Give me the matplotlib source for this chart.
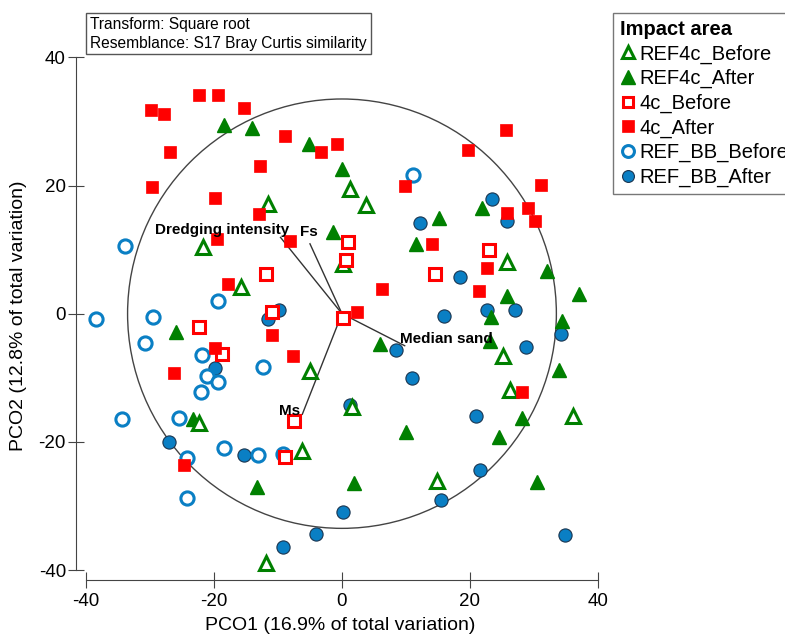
import numpy as np
import matplotlib
matplotlib.use("Agg")
from matplotlib import pyplot as plt
from matplotlib.patches import Circle

plt.rcParams['font.family'] = ['Liberation Sans', 'DejaVu Sans']
plt.rcParams['axes.unicode_minus'] = False

# REF4c_Before (open green triangles)
ref4c_before_x = [1.3, 3.7, 25.8, -11.6, -21.7, -15.7, 0.1, -4.95, 25.2, 26.3, 36.1, 1.5, 14.8, -22.4, -6.2, -11.8]
ref4c_before_y = [19.5, 17.0, 8.0, 17.1, 10.4, 4.2, 7.8, -8.9, -6.6, -11.9, -15.9, -14.6, -26.1, -17.0, -21.5, -38.9]

# REF4c_After (filled green triangles)
ref4c_after_x = [-18.4, -14.0, -5.1, 0.0, 21.9, 15.2, 11.6, 32.1, 25.8, 37.1, 23.3, 34.4, -1.4, -25.9, 6.0,
                 23.2, 33.9, 28.2, 24.5, 10.0, 1.9, 30.5, -23.2, -13.2]
ref4c_after_y = [29.4, 29.0, 26.5, 22.6, 16.5, 15.0, 10.9, 6.7, 2.7, 3.0, -0.5, -1.2, 12.7, -2.9, -4.8,
                 -4.3, -8.8, -16.3, -19.2, -18.4, -26.4, -26.2, -16.4, -27.1]

# 4c_Before (open red squares)
c4_before_x = [0.9, 0.7, 22.9, 14.5, 0.1, -11.8, -11.0, -22.4, -18.7, -7.5, -8.9]
c4_before_y = [11.2, 8.4, 10.0, 6.2, -0.7, 6.2, 0.3, -2.1, -6.3, -16.7, -22.3]

# 4c_After (filled red squares)
c4_after_x = [-29.8, -27.75, -22.4, -19.3, -15.3, -26.8, -8.9, -3.2, -0.8, -12.8, -29.7, -19.8,
              25.7, 19.7, 9.8, 31.1, 25.8, 29.0, 30.1, 14.1, 22.6, 6.2, 21.4, 2.3,
              -13.0, -19.5, -8.1, -17.8, -11.0, -19.9, -7.6, -26.3, 28.2, -24.7]
c4_after_y = [31.8, 31.2, 34.1, 34.1, 32.1, 25.3, 27.7, 25.3, 26.4, 23.1, 19.7, 18.0,
              28.7, 25.5, 20.0, 20.1, 15.7, 16.5, 14.5, 10.8, 7.2, 3.9, 3.6, 0.2,
              15.6, 11.7, 11.4, 4.6, -3.3, -5.3, -6.6, -9.3, -12.3, -23.6]

# REF_BB_Before (open blue circles)
bb_before_x = [11.1, -33.9, -19.3, -38.4, -29.5, -30.8, -21.8, -21.1, -19.4, -12.3, -22.0,
               -34.4, -25.4, -24.2, -18.4, -13.1, -9.2, -24.2]
bb_before_y = [21.7, 10.5, 2.0, -0.9, -0.5, -4.5, -6.4, -9.7, -10.6, -8.3, -12.3,
               -16.4, -16.3, -22.5, -20.9, -22.0, -21.9, -28.7]

# REF_BB_After (filled blue circles)
bb_after_x = [23.5, 25.8, 12.2, 18.5, 16.0, 22.7, 27.1, 34.3, 8.5, 28.7, 10.9, 1.2, 20.9, 21.5,
              15.4, 0.2, 34.9, -9.9, -11.5, -19.8, -27.0, -15.3, -4.1, -9.2]
bb_after_y = [17.9, 14.5, 14.1, 5.7, -0.3, 0.5, 0.5, -3.2, -5.7, -5.2, -10.0, -14.2, -15.9, -24.4,
              -29.0, -30.9, -34.5, 0.6, -0.9, -8.4, -20.0, -22.0, -34.4, -36.4]

# vectors (end points) and their labels
vec_names = ["Dredging intensity", "Fs", "Median sand", "Ms"]
vec_x = [-9.6, -5.0, 9.8, -6.2]
vec_y = [11.9, 10.9, -5.0, -15.7]
circle_r = 33.5

green = "#008000"
red = "#ff0000"
blue = "#0a7fc4"

fig = plt.figure(figsize=(7.85, 6.35), dpi=100)
ax = fig.add_axes([0.0973, 0.0872, 0.6726, 0.8326])

ms = 9.5
ax.plot(bb_after_x, bb_after_y, 'o', ms=ms, mfc=blue, mec="#1a3550", mew=0.8, ls='none', label="REF_BB_After")
ax.plot(bb_before_x, bb_before_y, 'o', ms=ms, mfc='white', mec=blue, mew=2.2, ls='none', label="REF_BB_Before")
ax.plot(ref4c_after_x, ref4c_after_y, '^', ms=ms + 1, mfc=green, mec=green, mew=1, ls='none', label="REF4c_After")
ax.plot(ref4c_before_x, ref4c_before_y, '^', ms=ms, mfc='white', mec=green, mew=2.2, ls='none', label="REF4c_Before")
ax.plot(c4_before_x, c4_before_y, 's', ms=ms - 1, mfc='white', mec=red, mew=2.2, ls='none', label="4c_Before")
ax.plot(c4_after_x, c4_after_y, 's', ms=ms - 0.5, mfc=red, mec=red, mew=0.5, ls='none', label="4c_After")

ax.add_patch(Circle((0, 0), circle_r, fill=False, ec="#444444", lw=1.0, zorder=1))
for name, vx, vy in zip(vec_names, vec_x, vec_y):
    ax.plot([0, vx], [0, vy], color="#333333", lw=1.0, zorder=1)
ax.text(-18.8, 13.0, "Dredging intensity", fontsize=11, fontweight='bold', ha='center', va='center')
ax.text(-5.2, 12.8, "Fs", fontsize=11, fontweight='bold', ha='center', va='center')
ax.text(16.3, -3.9, "Median sand", fontsize=11, fontweight='bold', ha='center', va='center')
ax.text(-8.2, -15.2, "Ms", fontsize=11, fontweight='bold', ha='center', va='center')

ax.set_xlim(-41.5, 41)
ax.set_ylim(-41.5, 41)
ax.set_xticks([-40, -20, 0, 20, 40])
ax.set_yticks([-40, -20, 0, 20, 40])
for s in ['top', 'right']:
    ax.spines[s].set_visible(False)
ax.spines['left'].set_bounds(-40, 40)
ax.spines['bottom'].set_bounds(-40, 40)
for s in ['left', 'bottom']:
    ax.spines[s].set_color("#444444")
ax.tick_params(labelsize=13.5, length=11, direction='inout', color="#444444")
ax.tick_params(axis='x', pad=4)
ax.tick_params(axis='y', pad=2)
ax.set_xlabel("PCO1 (16.9% of total variation)", fontsize=14, labelpad=5)
ax.set_ylabel("PCO2 (12.8% of total variation)", fontsize=14, labelpad=8)

fig.text(90 / 785, 1 - 17 / 635, "Transform: Square root\nResemblance: S17 Bray Curtis similarity",
         fontsize=11.2, va='top', ha='left', linespacing=1.3,
         bbox=dict(boxstyle='square,pad=0.25', fc='white', ec='#555555', lw=1))

handles, labels = ax.get_legend_handles_labels()
order = ["REF4c_Before", "REF4c_After", "4c_Before", "4c_After", "REF_BB_Before", "REF_BB_After"]
hmap = dict(zip(labels, handles))
leg = ax.legend([hmap[k] for k in order], order, loc='upper left',
                bbox_to_anchor=(613 / 785, 1 - 13 / 635), bbox_transform=fig.transFigure,
                title="Impact area", fontsize=14.5, frameon=True, fancybox=False,
                edgecolor="#555555", handletextpad=0.15, handlelength=0.8,
                borderpad=0.35, labelspacing=0.27, borderaxespad=0, alignment='left',
                markerscale=0.9)
leg.get_title().set_fontweight('bold')
leg.get_title().set_fontsize(14.5)
leg.get_frame().set_linewidth(1)

fig.savefig("out.png", dpi=100)
